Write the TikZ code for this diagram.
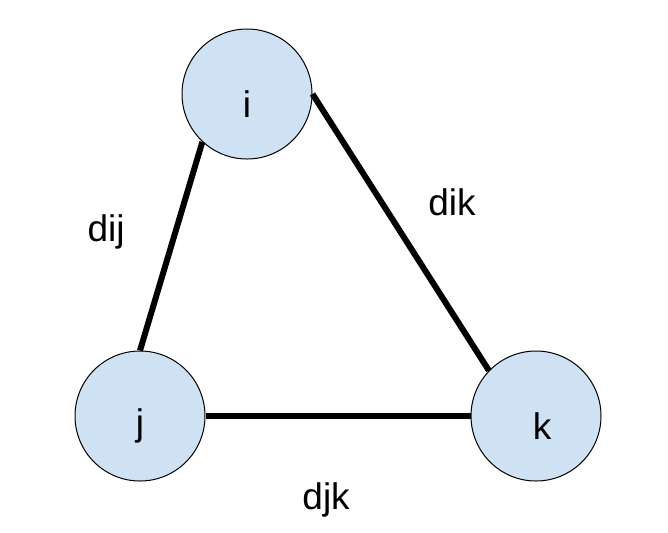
\documentclass[tikz,border=0pt]{standalone}
\usepackage{fontspec}
\setmainfont{Liberation Sans}
\definecolor{nodeblue}{HTML}{CFE2F3}
\begin{document}
\begin{tikzpicture}[x=0.5pt, y=-0.5pt, font=\fontsize{18.5pt}{22pt}\selectfont]
      \tikzset{vertex/.style={draw, circle, inner sep=0pt, minimum size=65pt, fill=nodeblue, line width=0.5pt}}
      \tikzset{link/.style={line width=3pt}}
      \useasboundingbox (0,0) rectangle (668,532);
%% Vertices
      	\node[vertex, label={[yshift=-5pt]center:i}] (i) at (247,94) {};
      	\node[vertex, label={[yshift=-5pt]center:j}] (j) at (140,416) {};
    	\node[vertex, label={[xshift=3pt, yshift=-5pt]center:k}] (k) at (536,416) {};
%Edges
		\path[link] (i.227) edge node[pos=0.43, left=24pt, inner sep=0pt] {dij} (j.north);
		\path[link] (i.east) edge node[pos=0.39, right=22pt, inner sep=0pt] {dik} (k.136);
		\path[link] (j.east) edge node[pos=0.455, below=32pt, inner sep=0pt] {djk} (k.west);
	\end{tikzpicture}
\end{document}
